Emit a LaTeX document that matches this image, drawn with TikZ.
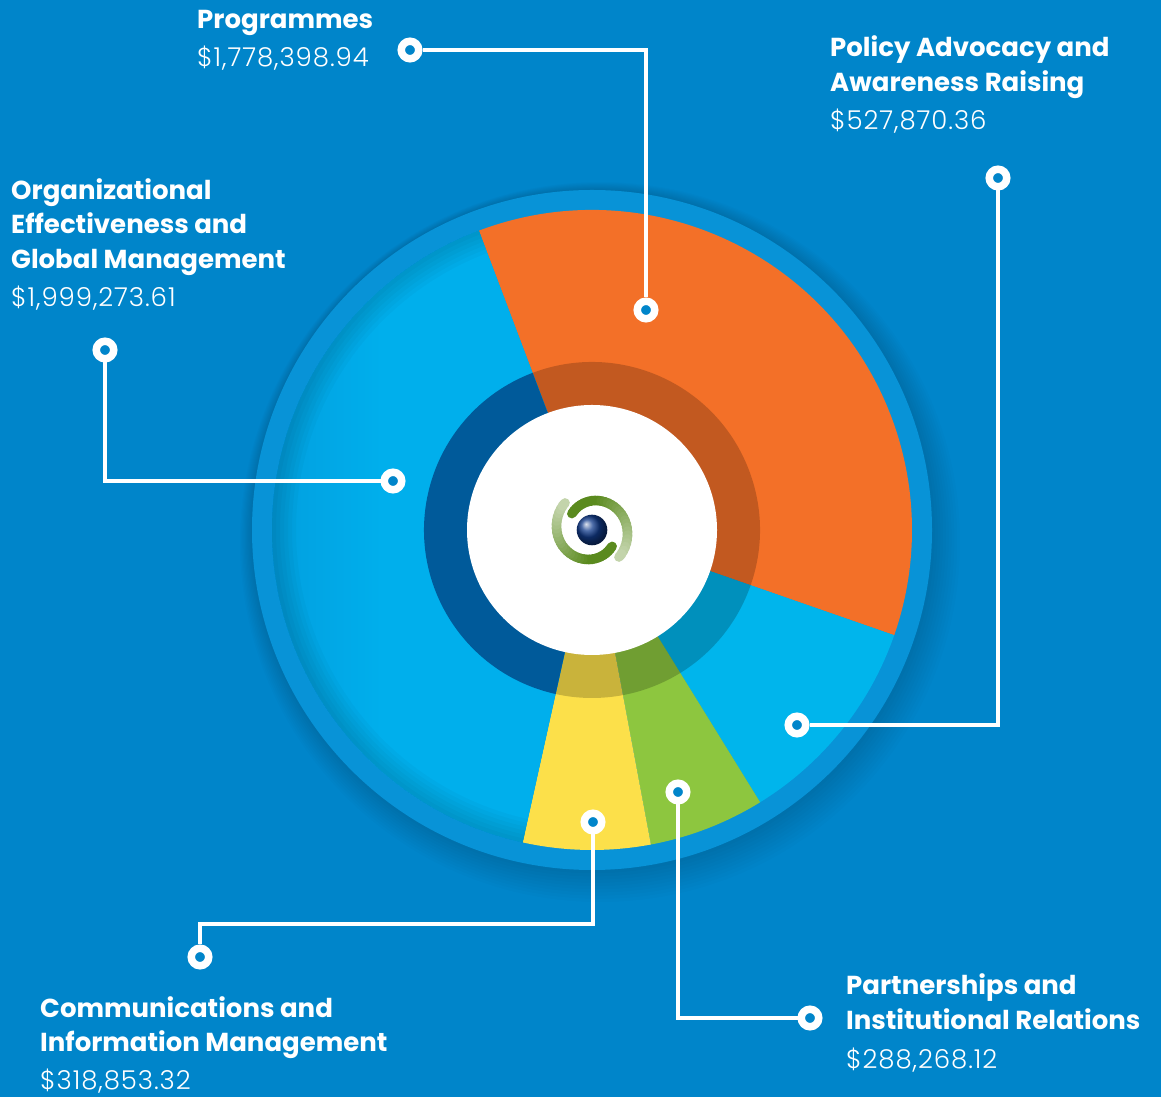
\documentclass[tikz,border=0pt]{standalone}
\usepackage{fontspec}
\setmainfont{Poppins}
\newfontfamily\valuefont{Poppins Light}[LetterSpace=3.5]
\usetikzlibrary{positioning}
\definecolor{bgblue}{HTML}{0085CA}
\definecolor{ringblue}{HTML}{0893D7}
\definecolor{progorange}{HTML}{F37028}
\definecolor{policycyan}{HTML}{00B5EC}
\definecolor{partgreen}{HTML}{8DC63F}
\definecolor{commyellow}{HTML}{FCE04A}
\definecolor{orgblue}{HTML}{00AFEC}
\definecolor{orgdark}{HTML}{048CD0}
\definecolor{ringdark}{HTML}{005A9A}
\definecolor{logodark}{HTML}{5A8A1E}
\definecolor{logopale}{HTML}{C8D8B2}
\definecolor{logoball}{HTML}{123C8C}
\pgfdeclarehorizontalshading{orgshade}{100bp}{color(0bp)=(orgdark); color(10bp)=(orgdark); color(45bp)=(orgblue); color(100bp)=(orgblue)}
\tikzset{
    x=1pt, y=1pt, % one unit is one pixel of the picture
    marker/.style={circle, draw=white, line width=7.5pt, fill=bgblue, minimum size=17.5pt, inner sep=0pt}, % the round ends of a connector
    conn/.style={draw=white, line width=4pt}, % the connector lines
    lbltext/.style={anchor=base west, inner sep=0pt, align=left, text=white, font=\fontsize{26}{34.5}\selectfont\bfseries}, % the texts, placed at the baseline of the amount
}
\newcommand{\amount}[1]{{\valuefont\mdseries #1}}

\begin{document}
\begin{tikzpicture}
    \fill[bgblue] (0,0) rectangle (1161,1097);
    \useasboundingbox (0,0) rectangle (1161,1097);
    \begin{scope}[shift={(592,567)}]
        % soft shadow and ring round the pie
        \foreach \s in {1,...,10}
            \fill[black, opacity=.013] (\s*0.8,-\s*1.2) circle[radius=340+\s*2];
        \fill[ringblue] (0,0) circle[radius=340];
        % slices
        \fill[progorange] (0,0) -- (110.7:320) arc[start angle=110.7, end angle=-19.2, radius=320] -- cycle;
        \fill[policycyan] (0,0) -- (-19.2:320) arc[start angle=-19.2, end angle=-58.3, radius=320] -- cycle;
        \fill[partgreen] (0,0) -- (-58.3:320) arc[start angle=-58.3, end angle=-79.4, radius=320] -- cycle;
        \fill[commyellow] (0,0) -- (-79.4:320) arc[start angle=-79.4, end angle=-102.5, radius=320] -- cycle;
        \shade[shading=orgshade] (0,0) -- (-102.5:320) arc[start angle=-102.5, end angle=-249.3, radius=320] -- cycle;
        \begin{scope}
            \clip (0,0) -- (-102.5:320) arc[start angle=-102.5, end angle=-249.3, radius=320] -- cycle;
            \foreach \r in {296,300,...,316}
                \fill[black, opacity=.025, even odd rule] (0,0) circle[radius=320] (0,0) circle[radius=\r];
        \end{scope}
        % inner ring
        \fill[black, opacity=.2] (0,0) -- (110.7:168) arc[start angle=110.7, end angle=-102.5, radius=168] -- cycle;
        \fill[ringdark] (0,0) -- (-102.5:168) arc[start angle=-102.5, end angle=-249.3, radius=168] -- cycle;
        \fill[white] (0,0) circle[radius=125];
        % logo
        \foreach \k in {0,180}
            \foreach \i in {0,...,29}{
                \pgfmathsetmacro\a{141+\k-\i*6.2}
                \pgfmathsetmacro\r{26+\i*0.42}
                \pgfmathsetmacro\p{min(100,100-(\i-10)*5)}
                \draw[line width=9.5pt, line cap=round, logodark!\p!logopale] (\a:\r) arc[start angle=\a, end angle=\a-6.4, radius=\r];
            }
        \shade[ball color=logoball] (0,0) circle[radius=15.3];
    \end{scope}

    % connectors
    \node[marker] (p1) at (410,1047) {};
    \node[marker] (p2) at (646,787) {};
    \draw[conn] (p1) -| (p2);
    \node[marker] (a1) at (998,919) {};
    \node[marker] (a2) at (797,372) {};
    \draw[conn] (a1) |- (a2);
    \node[marker] (g1) at (105,747) {};
    \node[marker] (g2) at (393,616) {};
    \draw[conn] (g1) |- (g2);
    \node[marker] (c1) at (593,275) {};
    \node[marker] (c2) at (200,140) {};
    \coordinate (ck) at (593,173);
    \draw[conn] (c1) -- (ck) -| (c2);
    \node[marker] (r1) at (678,305) {};
    \node[marker] (r2) at (810,79) {};
    \draw[conn] (r1) |- (r2);

    % labels
    \node[lbltext] (prog) at (197,1030) {Programmes\\[4pt]\amount{\$1,778,398.94}};
    \node[lbltext] (policy) at (830,967) {Policy Advocacy and\\Awareness Raising\\[4pt]\amount{\$527,870.36}};
    \node[lbltext] (org) at (11,790) {Organizational\\Effectiveness and\\Global Management\\[4pt]\amount{\$1,999,273.61}};
    \node[lbltext] (comm) at (40,8) {Communications and\\Information Management\\[3pt]\amount{\$318,853.32}};
    \node[lbltext] (part) at (846,29) {Partnerships and\\Institutional Relations\\[4pt]\amount{\$288,268.12}};
\end{tikzpicture}
\end{document}
